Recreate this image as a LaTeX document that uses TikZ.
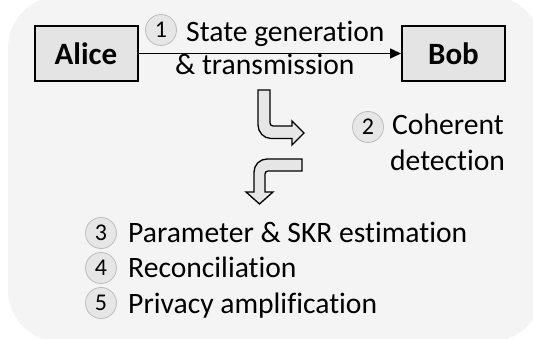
\documentclass[tikz,border=0pt]{standalone}
\usepackage{fontspec}
\setmainfont{Carlito}[Ligatures=NoCommon]
\usetikzlibrary{arrows.meta,calc}
\definecolor{panel}{HTML}{F4F4F4}
\definecolor{boxfill}{HTML}{E4E4E4}
\definecolor{badgefill}{HTML}{E6E6E6}
\definecolor{badgeline}{HTML}{BDBDBD}
\definecolor{bentfill}{HTML}{E6E6E6}
\tikzset{
  party/.style={draw=black, line width=2pt, fill=boxfill, minimum width=103pt,
    minimum height=55pt, inner sep=0pt, font=\fontsize{31}{36}\selectfont\bfseries},
  link/.style={line width=1.6pt, -{Triangle[length=11pt,width=10pt]}},
  stepnum/.style={circle, draw=badgeline, line width=0.8pt, fill=badgefill,
    minimum size=31pt, inner sep=0pt, font=\fontsize{24}{28}\selectfont},
  steptext/.style={inner sep=0pt, anchor=base west, font=\fontsize{29.6}{34}\selectfont},
  bent/.style={draw=black, line width=1.3pt, fill=bentfill, line join=miter},
}
\begin{document}
\begin{tikzpicture}[x=1pt,y=-1pt]
\useasboundingbox (0,0) rectangle (533,339);
\clip (0,0) rectangle (533,339);
% rounded panel behind everything
\fill[panel, rounded corners=52pt] (8,-4) rectangle (542,342);

% the two parties and the quantum channel
\node[party] (alice) at (86,53.5) {Alice};
\node[party] (bob) at (453.5,53.5) {Bob};
\draw[link] (alice.east) -- (bob.west);

% step 1
\node[stepnum] (n1) at (161,30) {1};
\node[steptext] (t1) at (186,42) {State generation};
\node[steptext] (t1b) at (175,75) {\& transmission};

% step 2
\node[stepnum] (n2) at (368,127) {2};
\node[steptext] (t2) at (392,135) {Coherent};
\node[steptext] (t2b) at (390,171) {detection};

% bent arrow: down, then right
\draw[bent] (258,90) -- (258,125)
  .. controls (258,132.2) and (263.8,138.5) .. (271,138.5)
  -- (292,138.5) -- (292,145) -- (304,133) -- (292,121) -- (292,126)
  -- (273,126) .. controls (271.3,126) and (270,124.7) .. (270,123)
  -- (270,90) -- cycle;

% bent arrow: left, then down
\draw[bent] (302,159) -- (267,159)
  .. controls (259.8,159) and (254,164.8) .. (254,172)
  -- (254,192) -- (246,192) -- (259.5,204) -- (273,192) -- (265,192)
  -- (265,174) .. controls (265,172.3) and (266.3,171) .. (268,171)
  -- (302,171) -- cycle;

% steps 3 to 5
\node[stepnum] (n3) at (101,233) {3};
\node[steptext] (t3) at (128,243) {Parameter \& SKR estimation};
\node[stepnum] (n4) at (101,268) {4};
\node[steptext] (t4) at (128,278) {Reconciliation};
\node[stepnum] (n5) at (101,303) {5};
\node[steptext] (t5) at (128,313) {Privacy amplification};
\end{tikzpicture}
\end{document}
